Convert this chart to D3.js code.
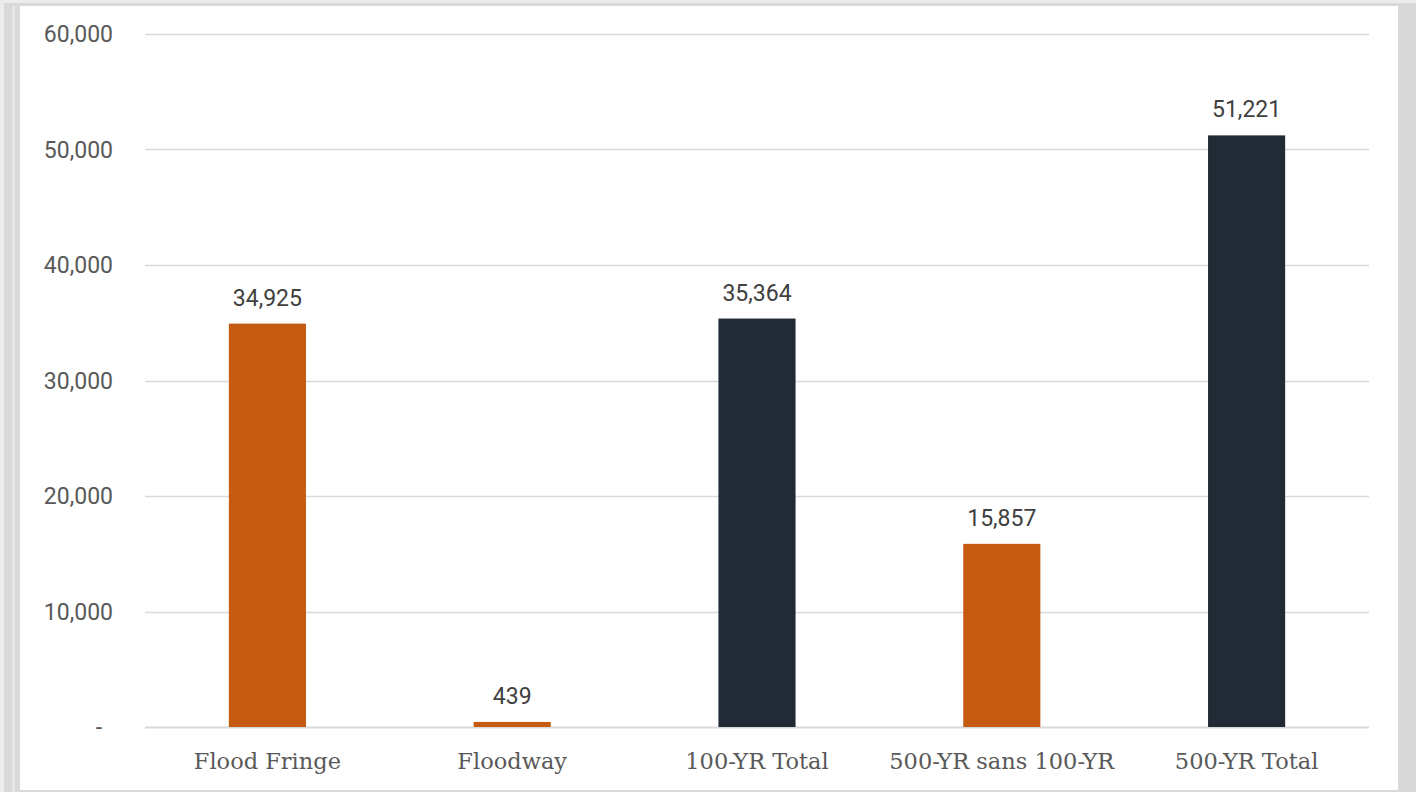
<!DOCTYPE html>
<html>
<head>
<meta charset="utf-8">
<script src="https://cdn.jsdelivr.net/npm/d3@7"></script>
<style>
  html, body { margin: 0; padding: 0; background: #fff; }
  svg { display: block; }
</style>
</head>
<body>
<svg id="chart" width="1416" height="792"></svg>
<script>
// Floodplain totals by zone
const categories = ["Flood Fringe", "Floodway", "100-YR Total", "500-YR sans 100-YR", "500-YR Total"];
const values = [34925, 439, 35364, 15857, 51221];
const barColors = ["#C55A11", "#C55A11", "#222A35", "#C55A11", "#222A35"];
const yTicks = [0, 10000, 20000, 30000, 40000, 50000, 60000];

const svg = d3.select("#chart");
const W = 1416, H = 792;

// Frame around the chart area
svg.append("rect").attr("x", 0).attr("y", 0).attr("width", W).attr("height", H).attr("fill", "#ececec");
svg.append("rect").attr("x", 4).attr("y", 3).attr("width", W - 4).attr("height", H - 3).attr("fill", "#d9d9d9");
svg.append("rect").attr("x", 12).attr("y", 6).attr("width", 3).attr("height", H - 6).attr("fill", "#e6e6e6");
svg.append("rect").attr("x", 20).attr("y", 6).attr("width", 1378).attr("height", H - 8).attr("fill", "#ffffff");

const margin = { left: 145, right: W - 1369, top: 34, bottom: H - 727 };

const x = d3.scaleBand()
  .domain(categories)
  .range([margin.left, W - margin.right])
  .paddingInner(0.685)
  .paddingOuter(0.3425);

const y = d3.scaleLinear()
  .domain([0, 60000])
  .range([H - margin.bottom, margin.top]);

const fmt = d3.format(",");

// Horizontal gridlines and axis line
svg.append("g")
  .selectAll("line")
  .data(yTicks)
  .join("line")
  .attr("x1", margin.left)
  .attr("x2", W - margin.right)
  .attr("y1", d => Math.round(y(d)) + 0.5)
  .attr("y2", d => Math.round(y(d)) + 0.5)
  .attr("stroke", "#d9d9d9")
  .attr("stroke-width", d => d === 0 ? 2 : 1.5);

// Y-axis tick labels
svg.append("g")
  .selectAll("text")
  .data(yTicks)
  .join("text")
  .attr("x", d => d === 0 ? 102 : 113)
  .attr("y", d => y(d))
  .attr("dy", "0.35em")
  .attr("text-anchor", "end")
  .attr("font-family", "Roboto, sans-serif")
  .attr("font-size", 23)
  .attr("fill", "#595959")
  .text(d => d === 0 ? "-" : fmt(d));

// Bars
const data = categories.map((c, i) => ({ c, v: values[i], color: barColors[i] }));

svg.append("g")
  .selectAll("rect")
  .data(data)
  .join("rect")
  .attr("x", d => x(d.c))
  .attr("width", x.bandwidth())
  .attr("y", d => y(d.v))
  .attr("height", d => y(0) - y(d.v))
  .attr("fill", d => d.color);

// Value labels above bars
svg.append("g")
  .selectAll("text")
  .data(data)
  .join("text")
  .attr("x", d => x(d.c) + x.bandwidth() / 2)
  .attr("y", d => y(d.v) - 18)
  .attr("text-anchor", "middle")
  .attr("font-family", "Roboto, sans-serif")
  .attr("font-size", 23)
  .attr("fill", "#404040")
  .text(d => fmt(d.v));

// Category labels
svg.append("g")
  .selectAll("text")
  .data(categories)
  .join("text")
  .attr("x", d => x(d) + x.bandwidth() / 2)
  .attr("y", 769)
  .attr("text-anchor", "middle")
  .attr("font-family", "'DejaVu Serif', serif")
  .attr("font-size", 22.5)
  .attr("fill", "#595959")
  .text(d => d);
</script>
</body>
</html>
